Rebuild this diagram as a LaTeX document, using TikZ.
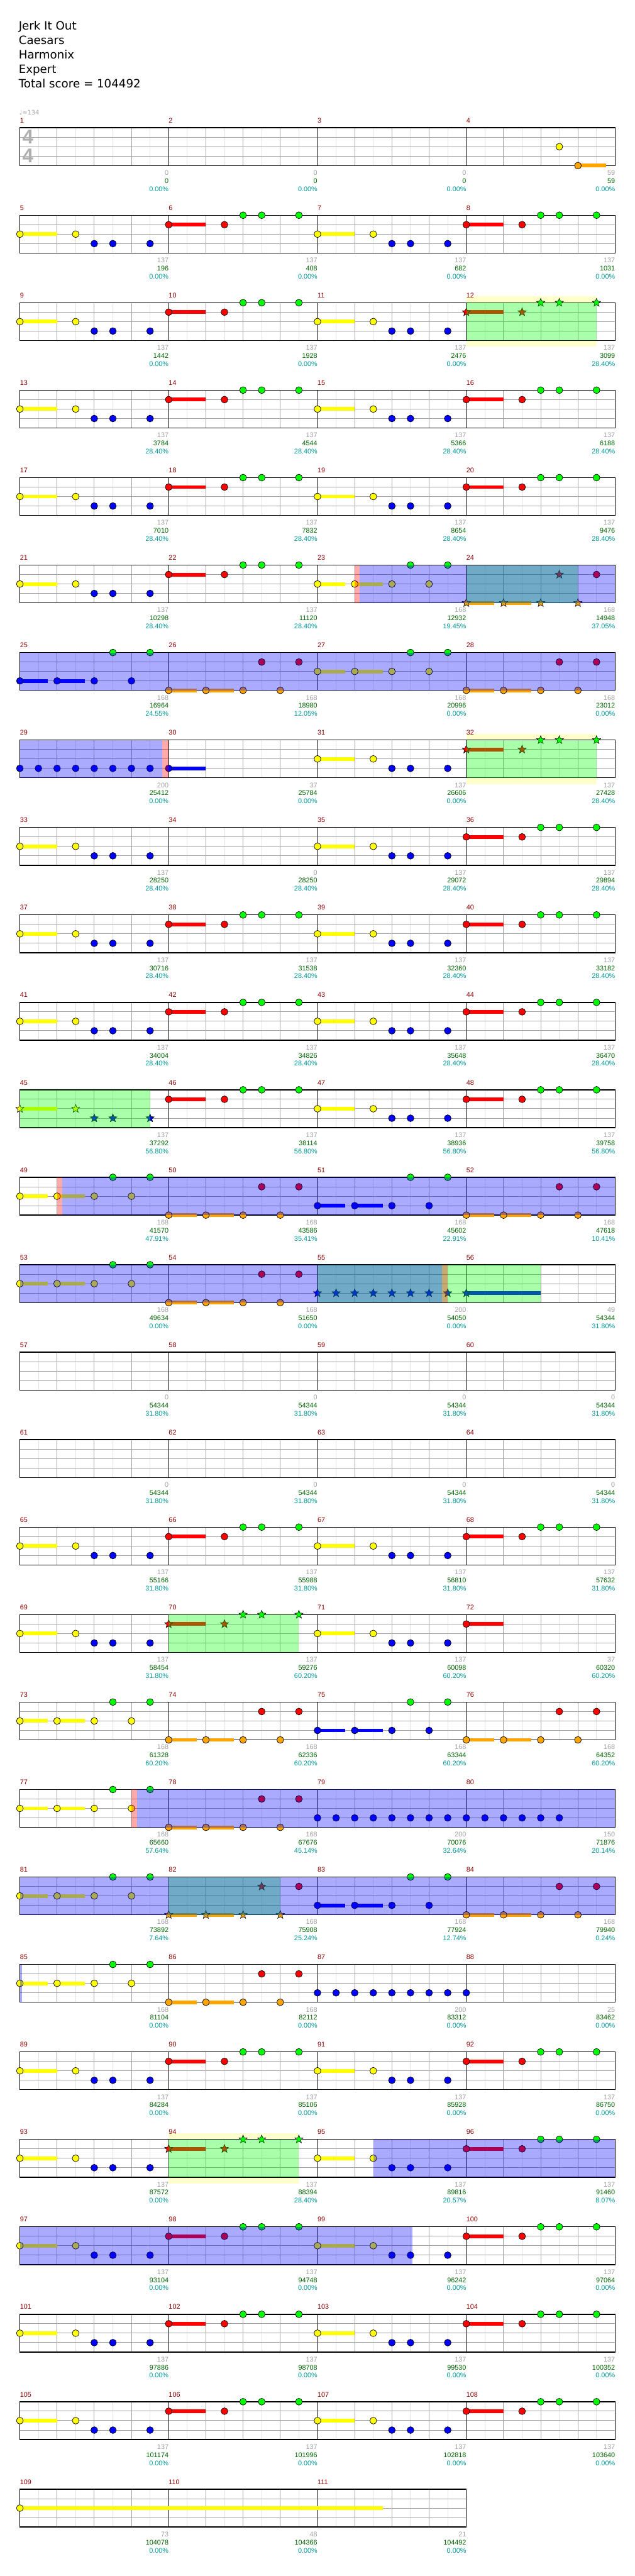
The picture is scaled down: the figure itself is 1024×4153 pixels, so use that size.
\documentclass[tikz,border=0pt]{standalone}
\usepackage{fontspec}
\setmainfont{Liberation Sans}
\newfontfamily\titlefont{DejaVu Sans}
\usepackage{xcolor}
\usepackage{tikz}
\usetikzlibrary{shapes.geometric}

% Màu các dây và chữ
\definecolor{lane0}{RGB}{0,255,0}
\definecolor{lane1}{RGB}{255,0,0}
\definecolor{lane2}{RGB}{255,255,0}
\definecolor{lane3}{RGB}{0,0,255}
\definecolor{lane4}{RGB}{255,165,0}
\definecolor{barno}{RGB}{139,0,0}
\definecolor{gridbeat}{RGB}{160,160,160}
\definecolor{gridhalf}{RGB}{226,226,226}
\definecolor{numgray}{RGB}{160,160,160}
\definecolor{numgreen}{RGB}{0,100,0}
\definecolor{numteal}{RGB}{0,153,153}
\definecolor{spband}{RGB}{255,255,204}
\definecolor{sigcol}{RGB}{175,175,175}

\newcounter{gemno}

% Toạ độ: ô nhịp, phách, dây
\newcommand\getpos[3]{%
  \pgfmathtruncatemacro\gemrow{(#1-1)/4}%
  \pgfmathtruncatemacro\gemcol{#1-1-4*\gemrow}%
  \pgfmathsetmacro\gemx{32+240*\gemcol+60*(#2)}%
  \pgfmathsetmacro\gemy{206+141*\gemrow+15.25*(#3)}}

% Một nốt: kiểu, ô nhịp, phách, dây
\newcommand\nt[4]{%
  \getpos{#2}{#3}{#4}%
  \stepcounter{gemno}%
  \node[#1, fill=lane#4] (gem\thegemno) at (\gemx,\gemy) {};}

% Nốt ngân: kiểu, ô nhịp, phách, dây, độ dài (phách)
\newcommand\sus[5]{%
  \getpos{#2}{#3}{#4}%
  \fill[lane#4] (\gemx,{\gemy-3}) rectangle ({\gemx+60*(#5)},{\gemy+3});%
  \nt{#1}{#2}{#3}{#4}}

% Hai ô nhịp lặp lại
\newcommand\verseY[2]{%
  \sus{#1}{#2}{0}{2}{1}\nt{#1}{#2}{1.5}{2}%
  \nt{#1}{#2}{2}{3}\nt{#1}{#2}{2.5}{3}\nt{#1}{#2}{3.5}{3}}
\newcommand\verseR[2]{%
  \sus{#1}{#2}{0}{1}{1}\nt{#1}{#2}{1.5}{1}%
  \nt{#1}{#2}{2}{0}\nt{#1}{#2}{2.5}{0}\nt{#1}{#2}{3.5}{0}}
% Điệp khúc: kiểu, kiểu nốt cuối, ô nhịp, dây chính, dây phụ
\newcommand\chorus[5]{%
  \sus{#1}{#3}{0}{#4}{0.75}\sus{#1}{#3}{1}{#4}{0.75}%
  \nt{#1}{#3}{2}{#4}\nt{#1}{#3}{3}{#4}%
  \nt{#1}{#3}{2.5}{#5}\nt{#2}{#3}{3.5}{#5}}

% Vùng phủ màu: màu, ô nhịp, từ phách, đến phách
\newcommand\zone[4]{%
  \getpos{#2}{#3}{0}%
  \fill[#1, opacity=1/3] (\gemx,\gemy) rectangle ({32+240*\gemcol+60*(#4)},{\gemy+61});}
\newcommand\yellowband[3]{%
  \getpos{#1}{#2}{0}%
  \fill[spband] (\gemx,{\gemy-10}) rectangle ({32+240*\gemcol+60*(#3)},{\gemy+71});}

\begin{document}
\begin{tikzpicture}[x=1pt, y=-1pt,
    gem/.style={circle, draw=black, line width=0.7pt, minimum size=11pt, inner sep=0pt},
    stargem/.style={star, star points=5, star point ratio=2.3, draw=black, line width=0.6pt, minimum size=14pt, inner sep=0pt},
    halfline/.style={draw=gridhalf, line width=1pt},
    beatline/.style={draw=gridbeat, line width=1pt},
    barline/.style={draw=black, line width=1pt},
    staff/.style={draw=black, line width=1.4pt},
    barnum/.style={text=barno, font=\fontsize{11}{13}\selectfont, anchor=base west, inner sep=0pt},
    gainnum/.style={text=numgray, font=\fontsize{11}{13}\selectfont, anchor=base east, inner sep=0pt},
    scorenum/.style={text=numgreen, font=\fontsize{11}{13}\selectfont, anchor=base east, inner sep=0pt},
    pctnum/.style={text=numteal, font=\fontsize{11}{13}\selectfont, anchor=base east, inner sep=0pt},
    titleline/.style={font=\titlefont\fontsize{18.5}{22}\selectfont, anchor=base west, inner sep=0pt}]
    \fill[white] (0,0) rectangle (1024,4153);
    \useasboundingbox (0,0) rectangle (1024,4153);

    % Tiêu đề
    \node[titleline] (song) at (30,48.5) {Jerk It Out};
    \node[titleline] (artist) at (30,71.7) {Caesars};
    \node[titleline] (author) at (30,95) {Harmonix};
    \node[titleline] (level) at (30,118) {Expert};
    \node[titleline] (total) at (30,141) {Total score = 104492};

    % Dải vàng sau khuông
    \yellowband{12}{0}{3.5}
    \yellowband{32}{0}{3.5}
    \yellowband{94}{0}{3.5}

    % Khuông nhạc từng hàng
    \foreach \r in {0,...,27}{
        \pgfmathsetmacro\rowy{206+141*\r}
        \pgfmathtruncatemacro\nb{\r==27 ? 12 : 16}
        \pgfmathsetmacro\rowx{32+60*\nb}
        \fill[white] (32,\rowy) rectangle (\rowx,{\rowy+61});
        \foreach \k in {1,...,\nb}
            \draw[halfline] ({2+60*\k},\rowy) -- ++(0,61);
        \foreach \k in {1,...,\nb}
            \draw[beatline] ({32+60*\k},\rowy) -- ++(0,61);
        \foreach \l in {1,2,3}
            \draw[beatline] (32,{\rowy+15.25*\l}) -- (\rowx,{\rowy+15.25*\l});
        \foreach \k in {4,8,...,\nb}
            \draw[barline] ({32+60*\k},\rowy) -- ++(0,61);
        \draw[staff] (32,\rowy) rectangle (\rowx,{\rowy+61});
    }

    % Nhịp và tốc độ
    \node[text=sigcol, font=\fontsize{32}{34}\selectfont\bfseries, anchor=base, inner sep=0pt] (sigtop) at (45,232) {4};
    \node[text=sigcol, font=\fontsize{32}{34}\selectfont\bfseries, anchor=base, inner sep=0pt] (sigbot) at (45,262) {4};
    \node[text=numgray, font=\titlefont\fontsize{10}{12}\selectfont, anchor=base west, inner sep=0pt] (tempo) at (31,185) {♩=134};

    % Nốt nhạc
    \nt{gem}{4}{2.5}{2}
    \sus{gem}{4}{3}{4}{0.75}
    \foreach \m in {5,7,9,11,13,15,17,19,21,31,33,35,37,39,41,43,47,65,67,69,71,89,91,93,95,97,99,101,103,105,107}
        {\verseY{gem}{\m}}
    \verseY{stargem}{45}
    \foreach \m in {6,8,10,14,16,18,20,22,36,38,40,42,44,46,48,66,68,90,92,96,98,100,102,104,106,108}
        {\verseR{gem}{\m}}
    \foreach \m in {12,32,70,94}
        {\verseR{stargem}{\m}}
    \foreach \m in {23,27,49,53,73,77,81,85}
        {\chorus{gem}{gem}{\m}{2}{0}}
    \foreach \m in {25,51,75,83}
        {\chorus{gem}{gem}{\m}{3}{0}}
    \foreach \m in {26,28,50,52,54,74,76,78,84,86}
        {\chorus{gem}{gem}{\m}{4}{1}}
    \chorus{stargem}{gem}{24}{4}{1}
    \chorus{stargem}{gem}{82}{4}{1}
    \foreach \m in {29,79,87}
        \foreach \b in {0,0.5,...,3.5}
            {\nt{gem}{\m}{\b}{3}}
    \foreach \b in {0,0.5,...,2.5}
        {\nt{gem}{80}{\b}{3}}
    \nt{gem}{88}{0}{3}
    \sus{gem}{30}{0}{3}{1}
    \foreach \b in {0,0.5,...,3.5}
        {\nt{stargem}{55}{\b}{3}}
    \sus{stargem}{56}{0}{3}{2}
    \sus{gem}{72}{0}{1}{1}
    \sus{gem}{109}{0}{2}{9.75}

    % Vùng star power
    \zone{lane0}{12}{0}{3.5}
    \zone{lane0}{24}{0}{3}
    \zone{lane0}{32}{0}{3.5}
    \zone{lane0}{45}{0}{3.5}
    \zone{lane0}{55}{0}{6}
    \zone{lane0}{70}{0}{3.5}
    \zone{lane0}{82}{0}{3}
    \zone{lane0}{94}{0}{3.5}

    % Vùng overdrive
    \zone{lane3}{23}{1.13}{8}
    \zone{lane3}{25}{0}{16}
    \zone{lane3}{29}{0}{3.83}
    \zone{lane3}{49}{1.14}{16}
    \zone{lane3}{53}{0}{11.35}
    \zone{lane3}{77}{3.15}{16}
    \zone{lane3}{81}{0}{16}
    \zone{lane3}{85}{0}{0.05}
    \zone{lane3}{95}{1.5}{8}
    \zone{lane3}{97}{0}{10.55}

    % Dải hồng
    \zone{lane1}{23}{1}{1.13}
    \zone{lane1}{29}{3.83}{4}
    \zone{lane1}{49}{1}{1.14}
    \zone{lane1}{55}{3.35}{3.5}
    \zone{lane1}{77}{3}{3.15}

    % Số ô nhịp và điểm
    \foreach \m/\g/\s/\p in {
        1/0/0/0.00, 2/0/0/0.00, 3/0/0/0.00, 4/59/59/0.00,
        5/137/196/0.00, 6/137/408/0.00, 7/137/682/0.00, 8/137/1031/0.00,
        9/137/1442/0.00, 10/137/1928/0.00, 11/137/2476/0.00, 12/137/3099/28.40,
        13/137/3784/28.40, 14/137/4544/28.40, 15/137/5366/28.40, 16/137/6188/28.40,
        17/137/7010/28.40, 18/137/7832/28.40, 19/137/8654/28.40, 20/137/9476/28.40,
        21/137/10298/28.40, 22/137/11120/28.40, 23/168/12932/19.45, 24/168/14948/37.05,
        25/168/16964/24.55, 26/168/18980/12.05, 27/168/20996/0.00, 28/168/23012/0.00,
        29/200/25412/0.00, 30/37/25784/0.00, 31/137/26606/0.00, 32/137/27428/28.40,
        33/137/28250/28.40, 34/0/28250/28.40, 35/137/29072/28.40, 36/137/29894/28.40,
        37/137/30716/28.40, 38/137/31538/28.40, 39/137/32360/28.40, 40/137/33182/28.40,
        41/137/34004/28.40, 42/137/34826/28.40, 43/137/35648/28.40, 44/137/36470/28.40,
        45/137/37292/56.80, 46/137/38114/56.80, 47/137/38936/56.80, 48/137/39758/56.80,
        49/168/41570/47.91, 50/168/43586/35.41, 51/168/45602/22.91, 52/168/47618/10.41,
        53/168/49634/0.00, 54/168/51650/0.00, 55/200/54050/0.00, 56/49/54344/31.80,
        57/0/54344/31.80, 58/0/54344/31.80, 59/0/54344/31.80, 60/0/54344/31.80,
        61/0/54344/31.80, 62/0/54344/31.80, 63/0/54344/31.80, 64/0/54344/31.80,
        65/137/55166/31.80, 66/137/55988/31.80, 67/137/56810/31.80, 68/137/57632/31.80,
        69/137/58454/31.80, 70/137/59276/60.20, 71/137/60098/60.20, 72/37/60320/60.20,
        73/168/61328/60.20, 74/168/62336/60.20, 75/168/63344/60.20, 76/168/64352/60.20,
        77/168/65660/57.64, 78/168/67676/45.14, 79/200/70076/32.64, 80/150/71876/20.14,
        81/168/73892/7.64, 82/168/75908/25.24, 83/168/77924/12.74, 84/168/79940/0.24,
        85/168/81104/0.00, 86/168/82112/0.00, 87/200/83312/0.00, 88/25/83462/0.00,
        89/137/84284/0.00, 90/137/85106/0.00, 91/137/85928/0.00, 92/137/86750/0.00,
        93/137/87572/0.00, 94/137/88394/28.40, 95/137/89816/20.57, 96/137/91460/8.07,
        97/137/93104/0.00, 98/137/94748/0.00, 99/137/96242/0.00, 100/137/97064/0.00,
        101/137/97886/0.00, 102/137/98708/0.00, 103/137/99530/0.00, 104/137/100352/0.00,
        105/137/101174/0.00, 106/137/101996/0.00, 107/137/102818/0.00, 108/137/103640/0.00,
        109/73/104078/0.00, 110/48/104366/0.00, 111/21/104492/0.00}{
        \getpos{\m}{0}{0}
        \node[barnum] (bar\m) at (\gemx,{\gemy-8}) {\m};
        \getpos{\m}{4}{4}
        \node[gainnum] (gain\m) at (\gemx,{\gemy+15.5}) {\g};
        \node[scorenum] (score\m) at (\gemx,{\gemy+28.5}) {\s};
        \node[pctnum] (pct\m) at (\gemx,{\gemy+41.5}) {\p\%};
    }
\end{tikzpicture}
\end{document}
